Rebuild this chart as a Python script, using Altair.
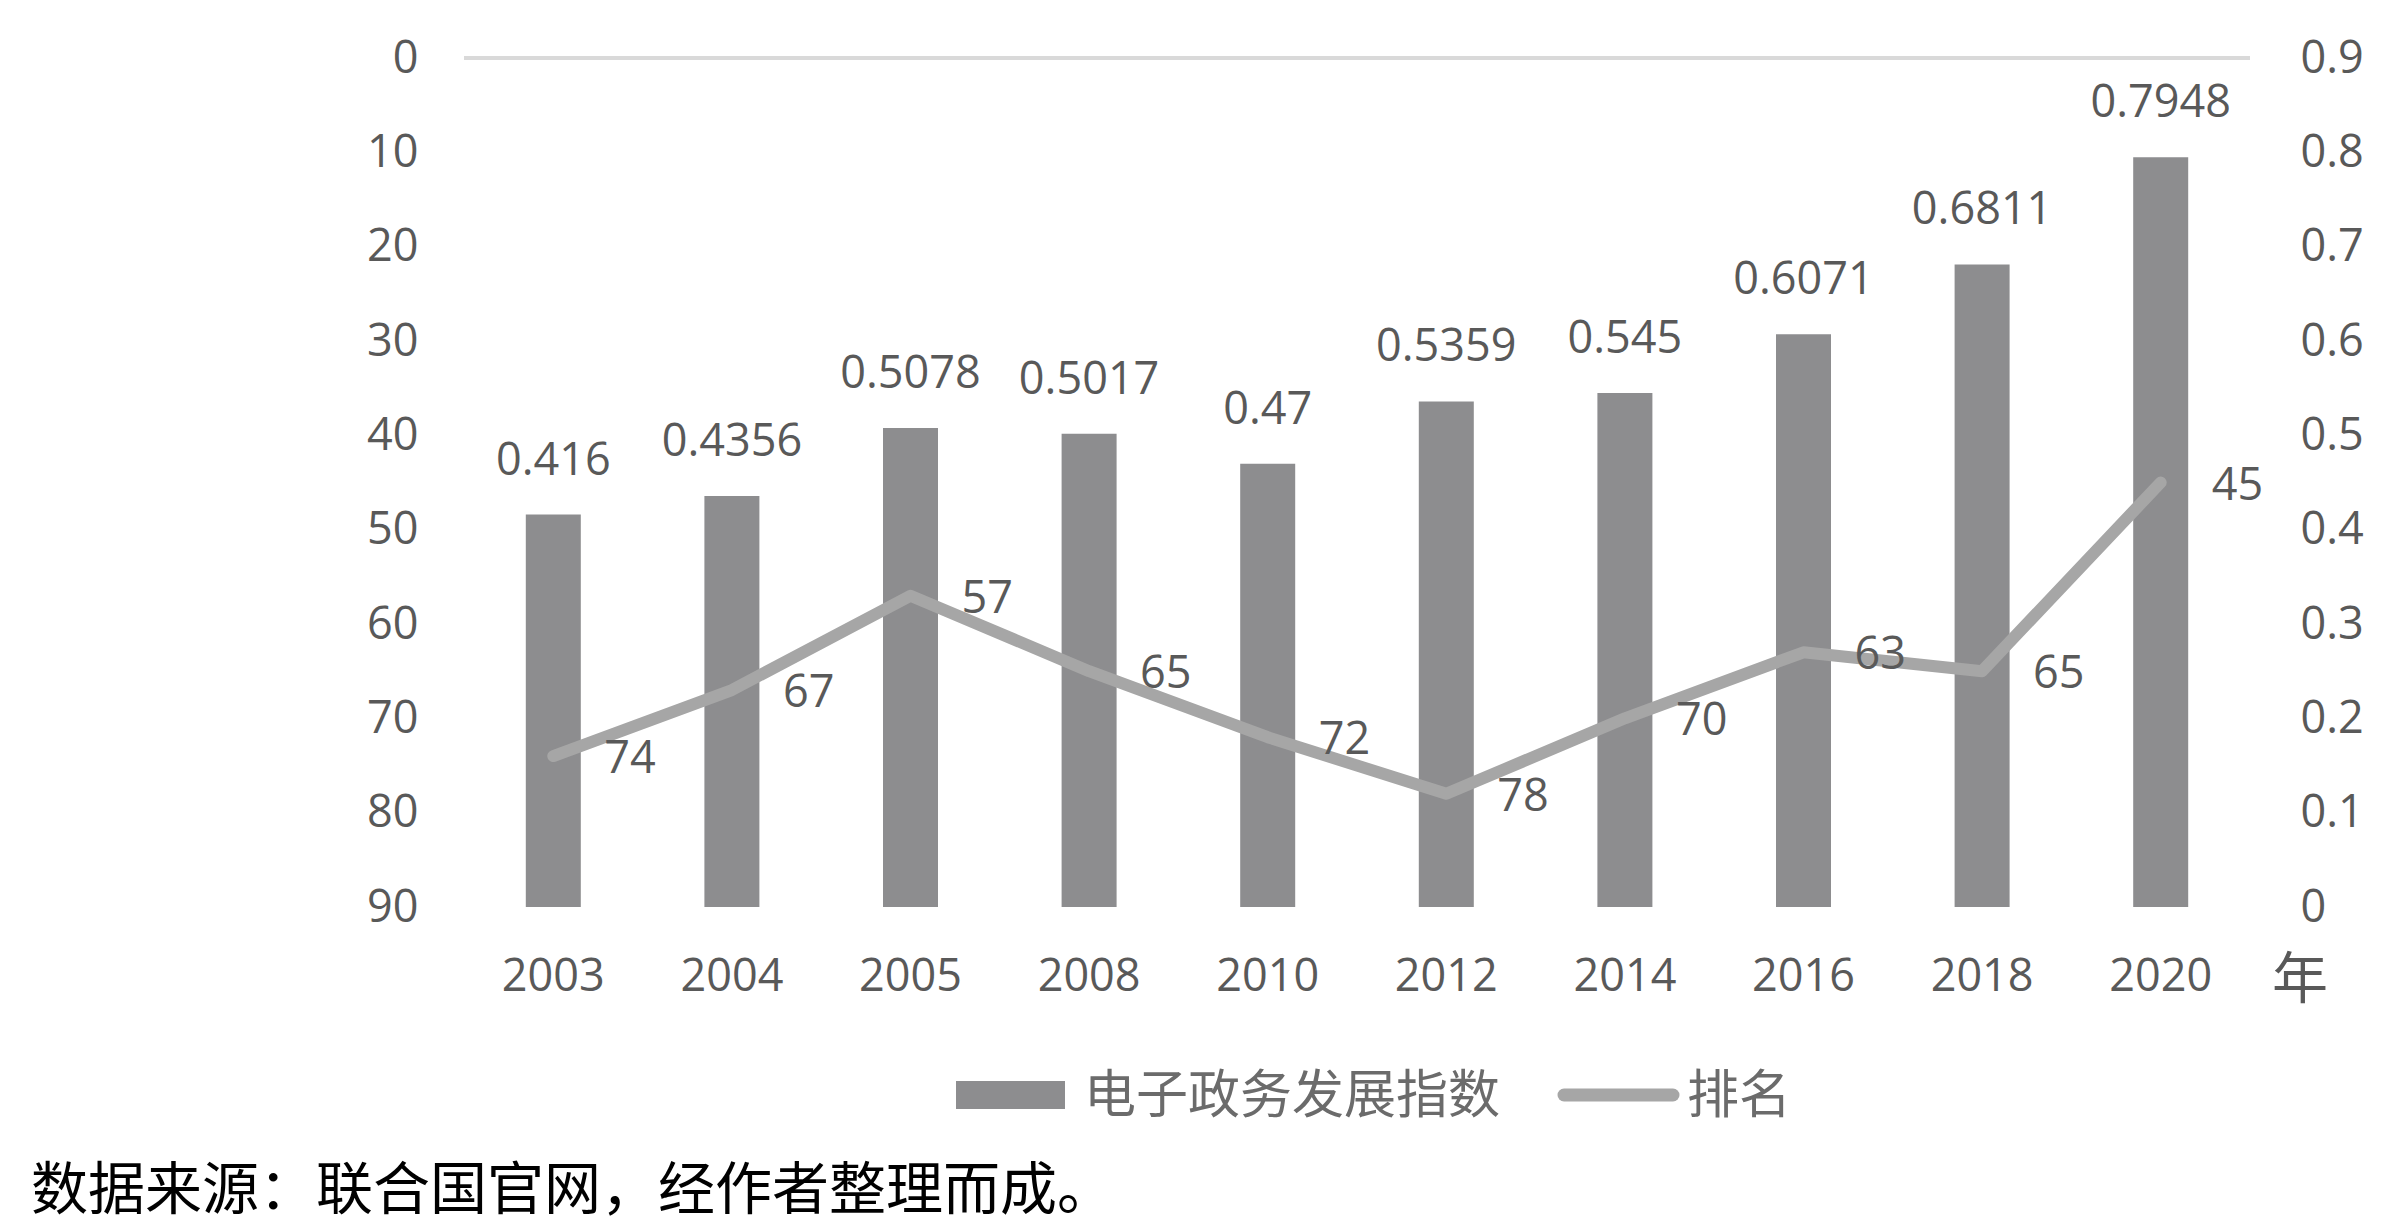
import altair as alt
import pandas as pd

# ---- data ----
years = ["2003", "2004", "2005", "2008", "2010", "2012", "2014", "2016", "2018", "2020"]
egdi = [0.416, 0.4356, 0.5078, 0.5017, 0.47, 0.5359, 0.545, 0.6071, 0.6811, 0.7948]
rank = [74, 67, 57, 65, 72, 78, 70, 63, 65, 45]
left_ticks = [0, 10, 20, 30, 40, 50, 60, 70, 80, 90]
right_ticks = [0, 0.1, 0.2, 0.3, 0.4, 0.5, 0.6, 0.7, 0.8, 0.9]
legend_labels = ["电子政务发展指数", "排名"]
x_unit = "年"
source_text = "数据来源：联合国官网，经作者整理而成。"

df = pd.DataFrame({
    "year": years,
    "egdi": egdi,
    "egdi_label": [str(v) for v in egdi],
    "rank": rank,
    "rank_label": [str(v) for v in rank],
})

W, H = 1786, 849
NUM_FONT = "Open Sans"
CJK = "Noto Sans CJK SC"
TXT = "#595959"
LEG = "#6b6b6b"
BAR = "#8d8d8f"
LINE = "#a6a6a6"
FS = 45

x_enc = alt.X(
    "year:N", sort=years,
    scale=alt.Scale(paddingInner=0, paddingOuter=0),
    axis=alt.Axis(title=None, labelAngle=0, domain=False, ticks=False, tickSize=0,
                  grid=False, labelPadding=47, labelFontSize=FS, labelColor=TXT,
                  labelFont=NUM_FONT),
)

y_egdi = alt.Y(
    "egdi:Q",
    scale=alt.Scale(domain=[0, 0.9], nice=False, zero=True),
    axis=alt.Axis(orient="right", values=right_ticks, format=".1~f", title=None,
                  domain=False, ticks=False, tickSize=0, grid=False, labelPadding=50,
                  labelFontSize=FS, labelColor=TXT, labelFont=NUM_FONT),
)

y_rank = alt.Y(
    "rank:Q",
    scale=alt.Scale(domain=[0, 90], reverse=True, nice=False, zero=True),
    axis=alt.Axis(orient="left", values=left_ticks, title=None, domain=False,
                  ticks=False, tickSize=0, grid=False, labelPadding=46,
                  labelFontSize=FS, labelColor=TXT, labelFont=NUM_FONT),
)

base = alt.Chart(df)

bars = base.mark_bar(size=55, color=BAR).encode(x=x_enc, y=y_egdi)
bar_text = base.mark_text(baseline="alphabetic", dy=-40, fontSize=FS, color=TXT,
                          font=NUM_FONT).encode(x=x_enc, y=y_egdi, text="egdi_label:N")

line = base.mark_line(color=LINE, strokeWidth=12, strokeJoin="round",
                      strokeCap="round").encode(x=x_enc, y=y_rank)
line_text = base.mark_text(align="left", baseline="middle", dx=51, dy=3, fontSize=FS,
                           color=TXT, font=NUM_FONT).encode(x=x_enc, y=y_rank,
                                                            text="rank_label:N")

ann = alt.Chart(pd.DataFrame({"k": [0]}))
top_rule = ann.mark_rule(color="#d9d9d9", strokeWidth=4).encode(
    x=alt.value(0), x2=alt.value(W), y=alt.value(0))
unit_text = ann.mark_text(align="center", baseline="middle", font=CJK, fontSize=56,
                          color=TXT).encode(x=alt.value(1836), y=alt.value(923),
                                            text=alt.value(x_unit))
leg_rect = ann.mark_rect(color=BAR).encode(
    x=alt.value(492), x2=alt.value(601), y=alt.value(1023), y2=alt.value(1051))
leg_line = ann.mark_rule(color=LINE, strokeWidth=13, strokeCap="round").encode(
    x=alt.value(1100), x2=alt.value(1209), y=alt.value(1037))
leg_t1 = ann.mark_text(align="left", baseline="middle", font=CJK, fontSize=52,
                       color=LEG).encode(x=alt.value(620), y=alt.value(1039),
                                         text=alt.value(legend_labels[0]))
leg_t2 = ann.mark_text(align="left", baseline="middle", font=CJK, fontSize=52,
                       color=LEG).encode(x=alt.value(1223), y=alt.value(1039),
                                         text=alt.value(legend_labels[1]))
src = ann.mark_text(align="left", baseline="middle", font=CJK, fontSize=57,
                    color="#000000").encode(x=alt.value(-433), y=alt.value(1134),
                                            text=alt.value(source_text))

chart = alt.layer(
    top_rule,
    alt.layer(bars, bar_text),
    alt.layer(line, line_text),
    unit_text, leg_rect, leg_line, leg_t1, leg_t2, src,
).resolve_scale(y="independent").properties(
    width=W, height=H,
    padding={"left": 456, "top": 50, "right": 130, "bottom": 318},
    autosize=alt.AutoSizeParams(type="none"),
    background="white",
).configure_view(stroke=None)

chart.save("out.html", embed_options={"renderer": "svg", "actions": False})
